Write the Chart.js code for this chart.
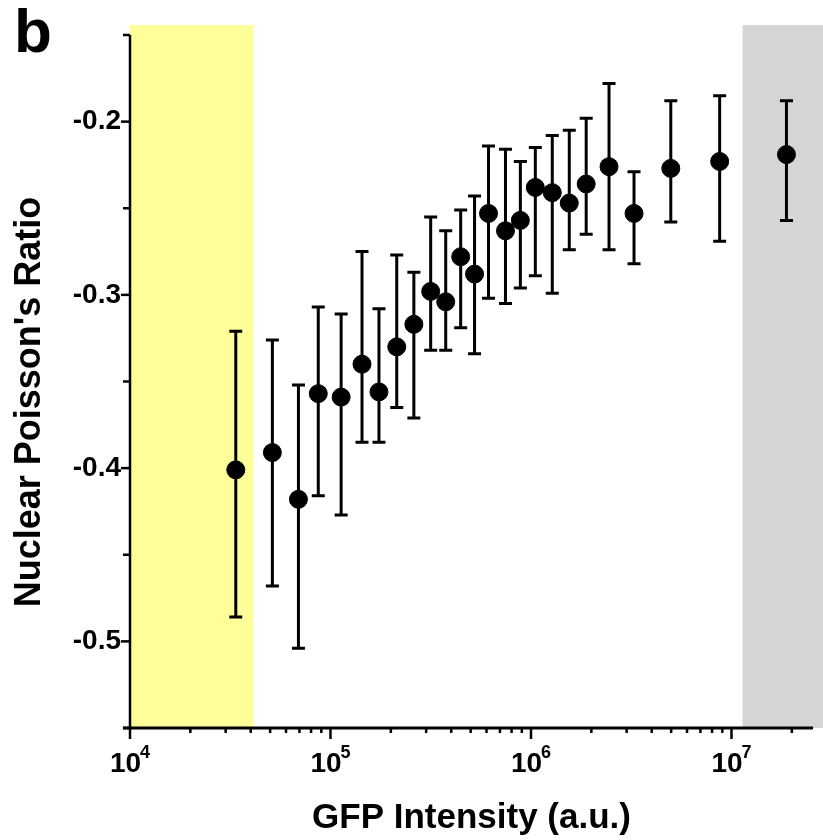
<!DOCTYPE html>
<html>
<head>
<meta charset="utf-8">
<script src="https://cdn.jsdelivr.net/npm/chart.js@4.4.1/dist/chart.umd.min.js"></script>
<style>
  html, body { margin: 0; padding: 0; background: #fff; }
</style>
</head>
<body>
<canvas id="chart" width="823" height="840"></canvas>
<script>
// GFP intensity bins (a.u.)
const gfp = [33700, 51300, 69200, 86900, 113000, 143600, 174500, 214000, 260500, 316000,
             375600, 446000, 523000, 614000, 746000, 885000, 1051000, 1277000, 1552000, 1885000,
             2450000, 3265000, 4980000, 8730000, 18800000];
// mean nuclear Poisson's ratio per bin
const poisson = [-0.401, -0.391, -0.418, -0.357, -0.359, -0.340, -0.356, -0.330, -0.317, -0.298,
                 -0.304, -0.278, -0.288, -0.253, -0.263, -0.257, -0.238, -0.241, -0.247, -0.236,
                 -0.226, -0.253, -0.227, -0.223, -0.219];
// error bar ends
const errTop = [-0.321, -0.326, -0.352, -0.307, -0.311, -0.275, -0.308, -0.277, -0.287, -0.255,
                -0.263, -0.251, -0.243, -0.214, -0.216, -0.223, -0.215, -0.208, -0.205, -0.198,
                -0.178, -0.229, -0.188, -0.185, -0.188];
const errBottom = [-0.486, -0.468, -0.504, -0.416, -0.427, -0.385, -0.385, -0.365, -0.371, -0.332,
                   -0.332, -0.319, -0.334, -0.302, -0.305, -0.296, -0.289, -0.299, -0.274, -0.265,
                   -0.274, -0.282, -0.258, -0.269, -0.257];

// shaded ranges
const lowBand = [10000, 41300];
const highBand = [11350000, 40000000];

// axis ticks
const decadeTicks = [1e4, 1e5, 1e6, 1e7];
const decadeExponents = ['4', '5', '6', '7'];
const minorMultiples = [2, 3, 4, 5, 6, 7, 8, 9];
const yTickValues = [-0.55, -0.5, -0.45, -0.4, -0.35, -0.3, -0.25, -0.2, -0.15];
const yTickLabels = ['-0.2', '-0.3', '-0.4', '-0.5'];

const FONT = "'Liberation Sans', Arial, sans-serif";

const isDecade = v => decadeTicks.some(d => Math.abs(v - d) < d * 1e-6);
const yLabelFor = v => {
  const s = v.toFixed(1);
  return (Math.abs(v * 10 - Math.round(v * 10)) < 1e-6 && yTickLabels.includes(s)) ? s : '';
};

const decorations = {
  id: 'decorations',
  beforeDatasetsDraw(chart) {
    const { ctx, chartArea: a, scales: { x, y } } = chart;
    ctx.save();
    const top = a.top - 10;
    // yellow band
    let l = x.getPixelForValue(lowBand[0]);
    let r = x.getPixelForValue(lowBand[1]);
    ctx.fillStyle = '#ffff99';
    ctx.fillRect(l, top, r - l, a.bottom - top);
    // grey band
    l = x.getPixelForValue(highBand[0]);
    ctx.fillStyle = '#d5d5d5';
    ctx.fillRect(l, top, chart.width - l, a.bottom - top);

    // error bars
    ctx.strokeStyle = '#000';
    ctx.lineWidth = 3;
    gfp.forEach((g, i) => {
      const px = x.getPixelForValue(g);
      const t = y.getPixelForValue(errTop[i]);
      const b = y.getPixelForValue(errBottom[i]);
      ctx.beginPath();
      ctx.moveTo(px, t); ctx.lineTo(px, b);
      ctx.moveTo(px - 6.5, t); ctx.lineTo(px + 6.5, t);
      ctx.moveTo(px - 6.5, b); ctx.lineTo(px + 6.5, b);
      ctx.stroke();
    });
    ctx.restore();
  },
  afterDraw(chart) {
    const { ctx, chartArea: a, scales: { x, y } } = chart;
    ctx.save();
    ctx.strokeStyle = '#000';
    ctx.fillStyle = '#000';

    // axis lines
    ctx.lineWidth = 3;
    ctx.beginPath();
    ctx.moveTo(a.left - 7, a.bottom); ctx.lineTo(a.right, a.bottom);
    ctx.stroke();
    ctx.lineWidth = 2.5;
    ctx.beginPath();
    ctx.moveTo(a.left, a.top); ctx.lineTo(a.left, a.bottom);
    ctx.stroke();

    // y ticks
    y.ticks.forEach(t => {
      const py = y.getPixelForValue(t.value);
      const len = yLabelFor(t.value) ? 9 : 7;
      ctx.beginPath();
      ctx.moveTo(a.left - len, py); ctx.lineTo(a.left, py);
      ctx.stroke();
    });

    // x ticks
    ctx.lineWidth = 2.5;
    x.ticks.forEach(t => {
      const px = x.getPixelForValue(t.value);
      const len = isDecade(t.value) ? 11 : 5;
      ctx.beginPath();
      ctx.moveTo(px, a.bottom); ctx.lineTo(px, a.bottom + len);
      ctx.stroke();
    });

    // x tick labels with exponent
    ctx.textAlign = 'left';
    ctx.textBaseline = 'alphabetic';
    decadeTicks.forEach((d, i) => {
      const px = x.getPixelForValue(d);
      ctx.font = 'bold 28px ' + FONT;
      ctx.fillText('10', px - 20, a.bottom + 44);
      ctx.font = 'bold 18px ' + FONT;
      ctx.fillText(decadeExponents[i], px + 10, a.bottom + 30);
    });

    // axis titles
    ctx.font = 'bold 35px ' + FONT;
    ctx.textAlign = 'center';
    ctx.fillText('GFP Intensity (a.u.)', (a.left + a.right) / 2, 828);
    ctx.save();
    ctx.font = 'bold 36px ' + FONT;
    ctx.translate(40, 402);
    ctx.rotate(-Math.PI / 2);
    ctx.fillText("Nuclear Poisson's Ratio", 0, 0);
    ctx.restore();

    // panel letter
    ctx.font = 'bold 62px ' + FONT;
    ctx.textAlign = 'left';
    ctx.fillText('b', 14, 52);
    ctx.restore();
  }
};

new Chart(document.getElementById('chart'), {
  type: 'scatter',
  data: {
    datasets: [{
      label: "Poisson's ratio",
      data: gfp.map((g, i) => ({ x: g, y: poisson[i] })),
      backgroundColor: '#000',
      borderColor: '#000',
      pointRadius: 9,
      pointHoverRadius: 9
    }]
  },
  options: {
    responsive: false,
    animation: false,
    layout: { padding: { top: 35, right: 6, left: 0, bottom: 0 } },
    plugins: { legend: { display: false }, tooltip: { enabled: false } },
    scales: {
      x: {
        type: 'logarithmic',
        min: 10000,
        max: 25500000,
        grid: { display: false },
        border: { display: false },
        ticks: { display: false },
        afterBuildTicks: scale => {
          const vals = [];
          decadeTicks.forEach(d => {
            vals.push(d);
            minorMultiples.forEach(m => { if (d * m <= scale.max) vals.push(d * m); });
          });
          scale.ticks = vals.map(v => ({ value: v }));
        },
        afterFit: scale => { scale.height = 112; }
      },
      y: {
        min: -0.55,
        max: -0.15,
        grid: { display: false, tickLength: 9 },
        border: { display: false },
        ticks: {
          padding: 0,
          color: '#000',
          font: { family: FONT, size: 28, weight: 'bold' },
          callback: v => yLabelFor(v)
        },
        afterBuildTicks: scale => {
          scale.ticks = yTickValues.map(v => ({ value: v }));
        },
        afterFit: scale => { scale.width = 130; }
      }
    }
  },
  plugins: [decorations]
});
</script>
</body>
</html>
